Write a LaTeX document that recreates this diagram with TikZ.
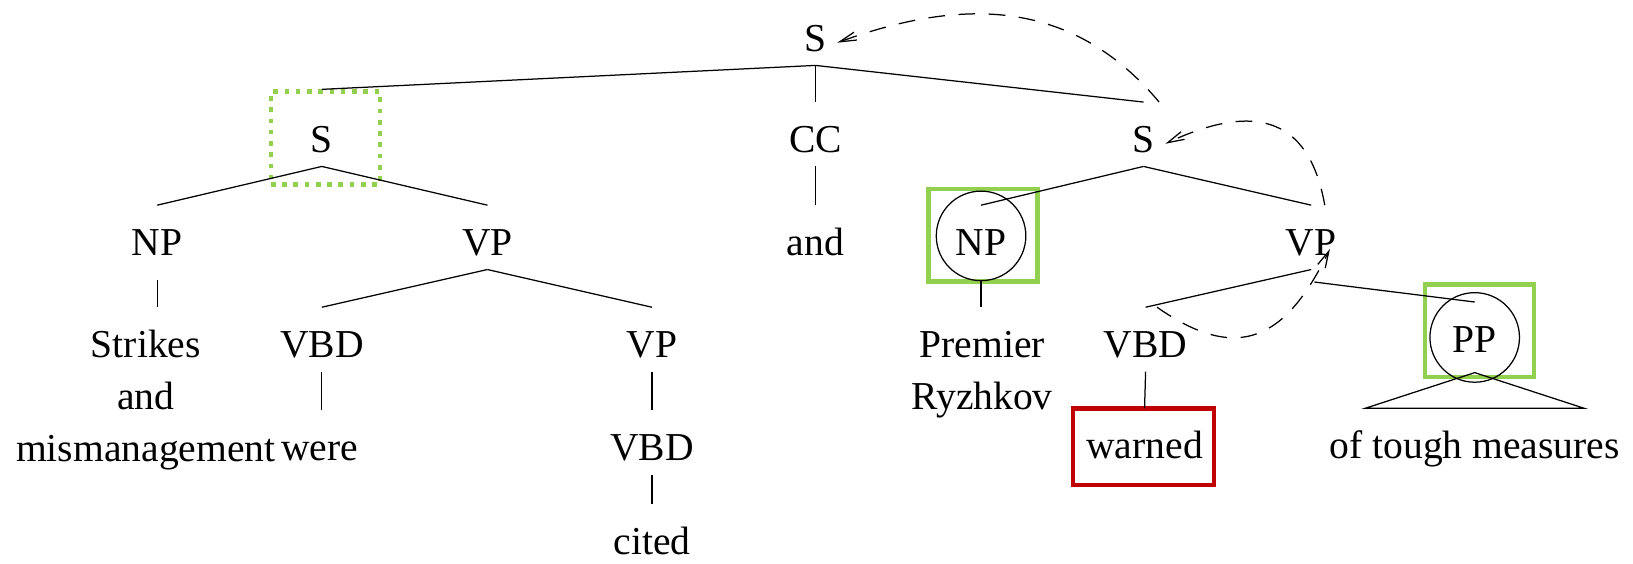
\documentclass[tikz,border=0pt]{standalone}
\usepackage{fontspec}
\setmainfont{Liberation Serif}
\usetikzlibrary{arrows.meta}
\definecolor{boxgreen}{RGB}{146,208,80}
\definecolor{boxred}{RGB}{192,0,0}

\begin{document}
\begin{tikzpicture}[x=0.5pt, y=0.5pt, font=\fontsize{19}{25}\selectfont,
  cat/.style={anchor=base, inner xsep=2pt, inner ysep=0pt, text height=23.8pt, text depth=6.7pt},
  branch/.style={line width=0.6pt},
  move/.style={line width=0.6pt, dash pattern=on 8pt off 6.5pt, -{Straight Barb[length=8pt,width=4pt]}},
  hilite/.style={draw=boxgreen, line width=2.2pt, minimum width=52.3pt, minimum height=44.5pt},
  ring/.style={circle, draw, line width=0.6pt, inner sep=0pt, minimum size=43pt}]
\useasboundingbox (0,0) rectangle (1568,-541);

%boxes and rings
\node[hilite, dash pattern=on 2.2pt off 3.2pt] (slbox) at (312.5,-132.5) {};
\node[hilite] (nprbox) at (944,-226) {};
\node[hilite] (ppbox) at (1420.5,-317.5) {};
\node[draw=boxred, line width=2.2pt, minimum width=67.8pt, minimum height=36.8pt] (warnedbox) at (1098,-429) {};
\node[ring] (nprring) at (942,-226.5) {};
\node[ring] (ppring) at (1416,-324) {};

%top
\node[cat] (root) at (783,-49) {S};
\node[cat] (sl) at (309,-146) {S};
\node[cat] (cc) at (783,-146) {CC};
\node[cat] (sr) at (1098,-146) {S};
%left clause
\node[cat] (npl) at (151,-245) {NP};
\node[cat] (vpl) at (468,-245) {VP};
\node[cat] (strikes) at (140,-343) {\begin{tabular}[t]{@{}c@{}}Strikes\\and\\mismanagement\end{tabular}};
\node[cat] (vbdl) at (309,-343) {VBD};
\node[cat] (vpm) at (626,-343) {VP};
\node[cat] (were) at (307,-442) {were};
\node[cat] (vbdm) at (626,-442) {VBD};
\node[cat, text depth=0.5pt] (cited) at (626,-532) {cited};
%conjunction
\node[cat] (and) at (783,-245) {and};
%right clause
\node[cat] (npr) at (942,-245) {NP};
\node[cat] (vpr) at (1259,-245) {VP};
\node[cat] (premier) at (943,-343) {\begin{tabular}[t]{@{}c@{}}Premier\\Ryzhkov\end{tabular}};
\node[cat] (vbdr) at (1100,-343) {VBD};
\node[cat] (pp) at (1416,-338) {PP};
\node[cat] (warned) at (1099,-440) {warned};
\node[cat] (tough) at (1416,-440) {of tough measures};

%branches
\draw[branch] (root.south) -- (sl |- slbox.north);
\foreach \a/\b in {root/cc, root/sr, cc/and, sl/npl, sl/vpl, vpl/vbdl, vpl/vpm,
                   vpm/vbdm, vbdm/cited, sr/npr, sr/vpr, vpr/vbdr, vbdr/warned}
   \draw[branch] (\a.south) -- (\b.north);
\draw[branch] ([yshift=-5pt]npl.south) -- (npl |- strikes.north);
\draw[branch] (vbdl.south) -- (vbdl |- were.north);
\draw[branch] ([yshift=-5pt]npr.south) -- (npr |- premier.north);
\draw[branch] ([shift={(1.5pt,-6pt)}]vpr.south) -- (pp.north);
\draw[branch] ([yshift=-3pt]pp.south) -- ([xshift=-52.5pt]tough.north) -- ([xshift=52.5pt]tough.north) -- cycle;

%movement arrows
\draw[move] (sr.north east) to[out=130, in=20, looseness=1.05] ([shift={(3pt,4pt)}]root.base east);
\draw[move] ([xshift=6.5pt]vpr.north) to[out=100, in=25, looseness=1.4] ([shift={(3pt,4pt)}]sr.base east);
\draw[move] ([xshift=5.5pt]vbdr.north) to[out=-35, in=-116, looseness=1.4] ([shift={(9pt,3pt)}]vpr.base);
\end{tikzpicture}
\end{document}
